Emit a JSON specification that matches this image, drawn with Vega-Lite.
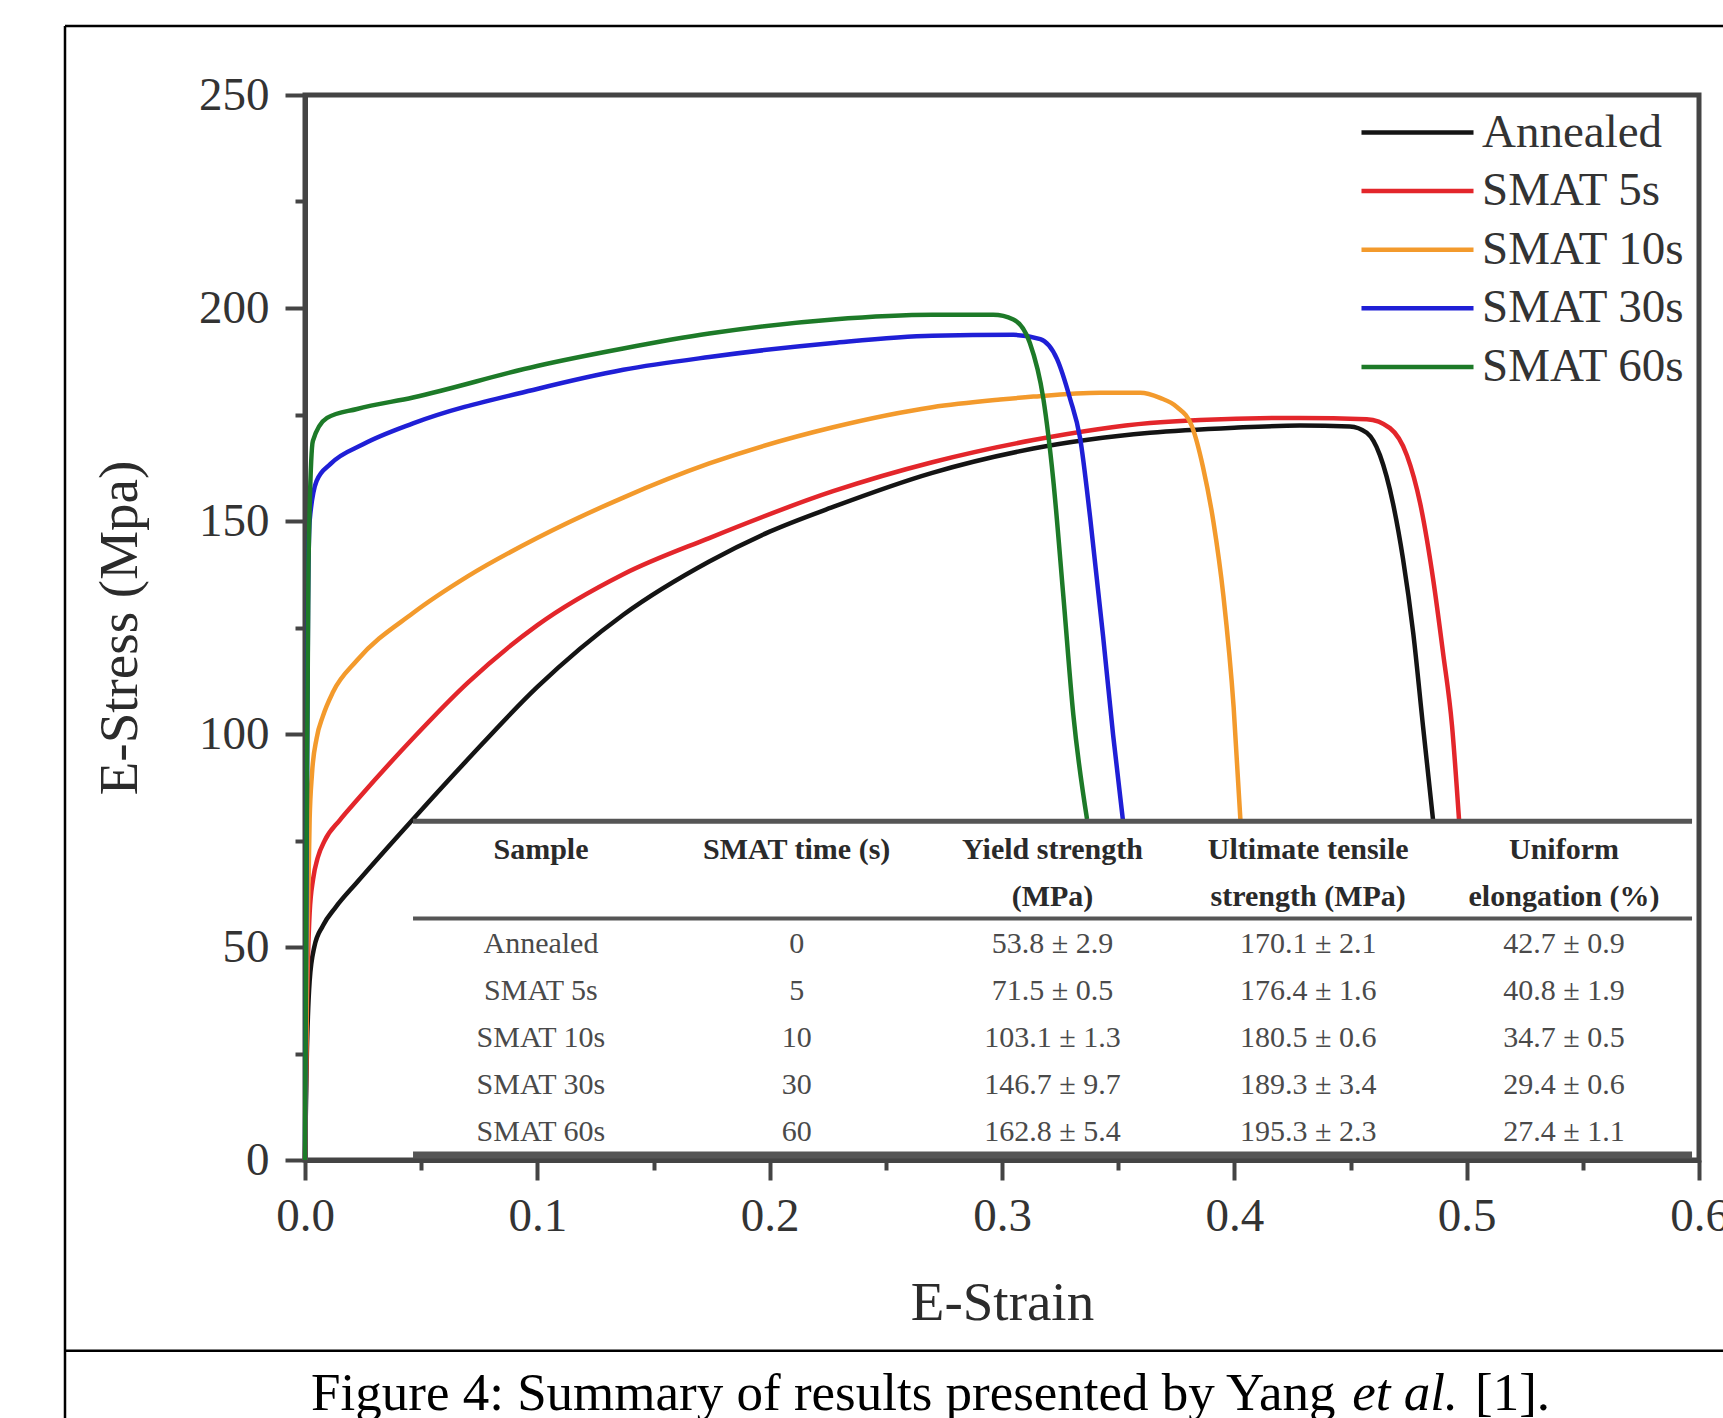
{
  "$schema": "https://vega.github.io/schema/vega-lite/v6.json",
  "autosize": {"type": "none"},
  "width": 1394,
  "height": 1065,
  "padding": {"left": 305, "top": 95, "right": 24, "bottom": 258},
  "background": "white",
  "config": {
    "font": "Liberation Serif",
    "view": {"stroke": "#444444", "strokeWidth": 5},
    "axis": {
      "domainColor": "#444444", "domainWidth": 5,
      "tickColor": "#444444", "tickWidth": 4,
      "labelFont": "Liberation Serif", "labelFontSize": 47, "labelColor": "#333333",
      "titleFont": "Liberation Serif", "titleFontSize": 55, "titleFontWeight": "normal", "titleColor": "#2b2b2b",
      "grid": false, "labelOverlap": false, "labelFlush": false
    },
    "legend": {
      "orient": "top-right", "offset": 14, "padding": 0,
      "symbolType": "M-5,0H5", "symbolSize": 502, "symbolStrokeWidth": 4.5,
      "labelFont": "Liberation Serif", "labelFontSize": 47, "labelColor": "#333333",
      "labelOffset": 41, "rowPadding": 10.6, "labelLimit": 600
    }
  },
  "datasets": {
    "curves": [
      {"sample": "Annealed", "strain": 0, "stress": 0},
      {"sample": "Annealed", "strain": 0.0008, "stress": 25},
      {"sample": "Annealed", "strain": 0.002, "stress": 42},
      {"sample": "Annealed", "strain": 0.004, "stress": 50},
      {"sample": "Annealed", "strain": 0.0077, "stress": 55},
      {"sample": "Annealed", "strain": 0.013, "stress": 59.2},
      {"sample": "Annealed", "strain": 0.0224, "stress": 65.2},
      {"sample": "Annealed", "strain": 0.0465, "stress": 80},
      {"sample": "Annealed", "strain": 0.07, "stress": 94},
      {"sample": "Annealed", "strain": 0.0999, "stress": 111},
      {"sample": "Annealed", "strain": 0.137, "stress": 128},
      {"sample": "Annealed", "strain": 0.174, "stress": 140.5},
      {"sample": "Annealed", "strain": 0.2, "stress": 147.5},
      {"sample": "Annealed", "strain": 0.2273, "stress": 153.3},
      {"sample": "Annealed", "strain": 0.27, "stress": 161.3},
      {"sample": "Annealed", "strain": 0.3135, "stress": 167},
      {"sample": "Annealed", "strain": 0.3637, "stress": 170.7},
      {"sample": "Annealed", "strain": 0.4, "stress": 171.9},
      {"sample": "Annealed", "strain": 0.4282, "stress": 172.4},
      {"sample": "Annealed", "strain": 0.4497, "stress": 172.2},
      {"sample": "Annealed", "strain": 0.457, "stress": 170.7},
      {"sample": "Annealed", "strain": 0.4627, "stress": 165.4},
      {"sample": "Annealed", "strain": 0.4683, "stress": 154.1},
      {"sample": "Annealed", "strain": 0.4726, "stress": 141.1},
      {"sample": "Annealed", "strain": 0.477, "stress": 123.7},
      {"sample": "Annealed", "strain": 0.4812, "stress": 101.9},
      {"sample": "Annealed", "strain": 0.4855, "stress": 80},
      {"sample": "SMAT 5s", "strain": 0, "stress": 0},
      {"sample": "SMAT 5s", "strain": 0.0008, "stress": 35},
      {"sample": "SMAT 5s", "strain": 0.002, "stress": 58},
      {"sample": "SMAT 5s", "strain": 0.0035, "stress": 66},
      {"sample": "SMAT 5s", "strain": 0.0055, "stress": 71},
      {"sample": "SMAT 5s", "strain": 0.0085, "stress": 75},
      {"sample": "SMAT 5s", "strain": 0.015, "stress": 79.8},
      {"sample": "SMAT 5s", "strain": 0.0224, "stress": 84.5},
      {"sample": "SMAT 5s", "strain": 0.0465, "stress": 99},
      {"sample": "SMAT 5s", "strain": 0.07, "stress": 112},
      {"sample": "SMAT 5s", "strain": 0.0999, "stress": 125.5},
      {"sample": "SMAT 5s", "strain": 0.137, "stress": 137.5},
      {"sample": "SMAT 5s", "strain": 0.174, "stress": 146},
      {"sample": "SMAT 5s", "strain": 0.2273, "stress": 157},
      {"sample": "SMAT 5s", "strain": 0.27, "stress": 163.8},
      {"sample": "SMAT 5s", "strain": 0.3135, "stress": 169},
      {"sample": "SMAT 5s", "strain": 0.3637, "stress": 173},
      {"sample": "SMAT 5s", "strain": 0.3852, "stress": 173.7},
      {"sample": "SMAT 5s", "strain": 0.4282, "stress": 174.2},
      {"sample": "SMAT 5s", "strain": 0.457, "stress": 173.9},
      {"sample": "SMAT 5s", "strain": 0.467, "stress": 171.8},
      {"sample": "SMAT 5s", "strain": 0.4743, "stress": 165.4},
      {"sample": "SMAT 5s", "strain": 0.48, "stress": 154.1},
      {"sample": "SMAT 5s", "strain": 0.4855, "stress": 136.6},
      {"sample": "SMAT 5s", "strain": 0.4898, "stress": 119.2},
      {"sample": "SMAT 5s", "strain": 0.4937, "stress": 101.9},
      {"sample": "SMAT 5s", "strain": 0.4967, "stress": 80},
      {"sample": "SMAT 10s", "strain": 0, "stress": 0},
      {"sample": "SMAT 10s", "strain": 0.001, "stress": 50},
      {"sample": "SMAT 10s", "strain": 0.002, "stress": 80},
      {"sample": "SMAT 10s", "strain": 0.003, "stress": 90.6},
      {"sample": "SMAT 10s", "strain": 0.005, "stress": 99},
      {"sample": "SMAT 10s", "strain": 0.0077, "stress": 104.2},
      {"sample": "SMAT 10s", "strain": 0.012, "stress": 109.8},
      {"sample": "SMAT 10s", "strain": 0.0224, "stress": 117.3},
      {"sample": "SMAT 10s", "strain": 0.0465, "stress": 128.4},
      {"sample": "SMAT 10s", "strain": 0.07, "stress": 137},
      {"sample": "SMAT 10s", "strain": 0.0999, "stress": 146},
      {"sample": "SMAT 10s", "strain": 0.137, "stress": 155.5},
      {"sample": "SMAT 10s", "strain": 0.174, "stress": 163.5},
      {"sample": "SMAT 10s", "strain": 0.2273, "stress": 172},
      {"sample": "SMAT 10s", "strain": 0.27, "stress": 176.7},
      {"sample": "SMAT 10s", "strain": 0.2992, "stress": 178.5},
      {"sample": "SMAT 10s", "strain": 0.3135, "stress": 179.2},
      {"sample": "SMAT 10s", "strain": 0.3423, "stress": 180.1},
      {"sample": "SMAT 10s", "strain": 0.3595, "stress": 180.1},
      {"sample": "SMAT 10s", "strain": 0.368, "stress": 178.9},
      {"sample": "SMAT 10s", "strain": 0.3752, "stress": 176.8},
      {"sample": "SMAT 10s", "strain": 0.3817, "stress": 172.3},
      {"sample": "SMAT 10s", "strain": 0.3865, "stress": 162.7},
      {"sample": "SMAT 10s", "strain": 0.391, "stress": 149.8},
      {"sample": "SMAT 10s", "strain": 0.3953, "stress": 132.4},
      {"sample": "SMAT 10s", "strain": 0.3997, "stress": 106.3},
      {"sample": "SMAT 10s", "strain": 0.4026, "stress": 80},
      {"sample": "SMAT 30s", "strain": 0, "stress": 0},
      {"sample": "SMAT 30s", "strain": 0.0006, "stress": 60},
      {"sample": "SMAT 30s", "strain": 0.0013, "stress": 130},
      {"sample": "SMAT 30s", "strain": 0.002, "stress": 150},
      {"sample": "SMAT 30s", "strain": 0.005, "stress": 159.4},
      {"sample": "SMAT 30s", "strain": 0.011, "stress": 163.4},
      {"sample": "SMAT 30s", "strain": 0.025, "stress": 168},
      {"sample": "SMAT 30s", "strain": 0.0465, "stress": 172.9},
      {"sample": "SMAT 30s", "strain": 0.0999, "stress": 181},
      {"sample": "SMAT 30s", "strain": 0.137, "stress": 185.5},
      {"sample": "SMAT 30s", "strain": 0.174, "stress": 188.5},
      {"sample": "SMAT 30s", "strain": 0.2273, "stress": 191.8},
      {"sample": "SMAT 30s", "strain": 0.27, "stress": 193.5},
      {"sample": "SMAT 30s", "strain": 0.3049, "stress": 193.7},
      {"sample": "SMAT 30s", "strain": 0.3165, "stress": 192.7},
      {"sample": "SMAT 30s", "strain": 0.3237, "stress": 188},
      {"sample": "SMAT 30s", "strain": 0.3293, "stress": 178.7},
      {"sample": "SMAT 30s", "strain": 0.3336, "stress": 169.5},
      {"sample": "SMAT 30s", "strain": 0.3379, "stress": 151},
      {"sample": "SMAT 30s", "strain": 0.3435, "stress": 123},
      {"sample": "SMAT 30s", "strain": 0.3478, "stress": 99.9},
      {"sample": "SMAT 30s", "strain": 0.352, "stress": 80},
      {"sample": "SMAT 60s", "strain": 0, "stress": 0},
      {"sample": "SMAT 60s", "strain": 0.0006, "stress": 70},
      {"sample": "SMAT 60s", "strain": 0.0015, "stress": 140},
      {"sample": "SMAT 60s", "strain": 0.0034, "stress": 168.8},
      {"sample": "SMAT 60s", "strain": 0.0095, "stress": 174.2},
      {"sample": "SMAT 60s", "strain": 0.0224, "stress": 176.3},
      {"sample": "SMAT 60s", "strain": 0.0465, "stress": 179},
      {"sample": "SMAT 60s", "strain": 0.0999, "stress": 186.4},
      {"sample": "SMAT 60s", "strain": 0.137, "stress": 190.5},
      {"sample": "SMAT 60s", "strain": 0.174, "stress": 194},
      {"sample": "SMAT 60s", "strain": 0.2273, "stress": 197.3},
      {"sample": "SMAT 60s", "strain": 0.27, "stress": 198.4},
      {"sample": "SMAT 60s", "strain": 0.2962, "stress": 198.4},
      {"sample": "SMAT 60s", "strain": 0.3049, "stress": 197.3},
      {"sample": "SMAT 60s", "strain": 0.312, "stress": 191.8},
      {"sample": "SMAT 60s", "strain": 0.3178, "stress": 178.7},
      {"sample": "SMAT 60s", "strain": 0.322, "stress": 160},
      {"sample": "SMAT 60s", "strain": 0.3264, "stress": 132.4},
      {"sample": "SMAT 60s", "strain": 0.3307, "stress": 104.5},
      {"sample": "SMAT 60s", "strain": 0.3366, "stress": 80}
    ],
    "tableHeader": [
      {"line": "h1", "sample": "Sample", "time": "SMAT time (s)", "ys": "Yield strength", "uts": "Ultimate tensile", "el": "Uniform"},
      {"line": "h2", "sample": "", "time": "", "ys": "(MPa)", "uts": "strength (MPa)", "el": "elongation (%)"}
    ],
    "tableBody": [
      {"sample": "Annealed", "time": "0", "ys": "53.8 ± 2.9", "uts": "170.1 ± 2.1", "el": "42.7 ± 0.9"},
      {"sample": "SMAT 5s", "time": "5", "ys": "71.5 ± 0.5", "uts": "176.4 ± 1.6", "el": "40.8 ± 1.9"},
      {"sample": "SMAT 10s", "time": "10", "ys": "103.1 ± 1.3", "uts": "180.5 ± 0.6", "el": "34.7 ± 0.5"},
      {"sample": "SMAT 30s", "time": "30", "ys": "146.7 ± 9.7", "uts": "189.3 ± 3.4", "el": "29.4 ± 0.6"},
      {"sample": "SMAT 60s", "time": "60", "ys": "162.8 ± 5.4", "uts": "195.3 ± 2.3", "el": "27.4 ± 1.1"}
    ],
    "caption1": [{"text": "Figure 4: Summary of results presented by Yang"}],
    "caption2": [{"text": "et al."}],
    "caption3": [{"text": "[1]."}],
    "blank": [{}]
  },
  "layer": [
    {
      "layer": [
        {
          "data": {"name": "blank"},
          "mark": {"type": "rule", "color": "#000000", "strokeWidth": 2.5},
          "encoding": {"x": {"datum": -0.1033}, "y": {"datum": 266.2}, "y2": {"datum": -70}}
        },
        {
          "data": {"name": "blank"},
          "mark": {"type": "rule", "color": "#000000", "strokeWidth": 2.5},
          "encoding": {"x": {"datum": -0.1033}, "x2": {"datum": 0.63}, "y": {"datum": 266.2}}
        },
        {
          "data": {"name": "blank"},
          "mark": {"type": "rule", "color": "#000000", "strokeWidth": 2.5},
          "encoding": {"x": {"datum": -0.1033}, "x2": {"datum": 0.63}, "y": {"datum": -44.8}}
        },
        {
          "data": {"name": "curves"},
          "mark": {"type": "line", "interpolate": "monotone", "strokeWidth": 4.5},
          "encoding": {
            "x": {
              "field": "strain", "type": "quantitative",
              "scale": {"domain": [0, 0.6], "nice": false, "zero": false},
              "axis": {
                "title": "E-Strain",
                "values": [0, 0.05, 0.1, 0.15, 0.2, 0.25, 0.3, 0.35, 0.4, 0.45, 0.5, 0.55, 0.6],
                "format": ".1f",
                "labelExpr": "round(datum.value * 100) % 10 == 0 ? datum.label : ''",
                "tickSize": {"condition": {"test": "round(datum.value * 100) % 10 != 0", "value": 10}, "value": 20},
                "labelPadding": 13,
                "titlePadding": 37
              }
            },
            "y": {
              "field": "stress", "type": "quantitative",
              "scale": {"domain": [0, 250], "nice": false},
              "axis": {
                "title": "E-Stress (Mpa)",
                "values": [0, 25, 50, 75, 100, 125, 150, 175, 200, 225, 250],
                "labelExpr": "datum.value % 50 == 0 ? datum.label : ''",
                "tickSize": {"condition": {"test": "datum.value % 50 != 0", "value": 10}, "value": 20},
                "labelPadding": 16,
                "titlePadding": 50
              }
            },
            "color": {
              "field": "sample", "type": "nominal",
              "scale": {
                "domain": ["Annealed", "SMAT 5s", "SMAT 10s", "SMAT 30s", "SMAT 60s"],
                "range": ["#141414", "#e3262b", "#f39a2c", "#1f1fd6", "#1d7a28"]
              },
              "legend": {"title": null}
            }
          }
        },
        {
          "data": {"name": "blank"},
          "mark": {"type": "rule", "color": "#555555", "strokeWidth": 5},
          "encoding": {"x": {"datum": 0.0465}, "x2": {"datum": 0.597}, "y": {"datum": 79.5}}
        },
        {
          "data": {"name": "blank"},
          "mark": {"type": "rule", "color": "#555555", "strokeWidth": 4},
          "encoding": {"x": {"datum": 0.0465}, "x2": {"datum": 0.597}, "y": {"datum": 56.7}}
        },
        {
          "data": {"name": "blank"},
          "mark": {"type": "rule", "color": "#555555", "strokeWidth": 7},
          "encoding": {"x": {"datum": 0.0465}, "x2": {"datum": 0.597}, "y": {"datum": 1.2}}
        },
        {
          "data": {"name": "caption1"},
          "mark": {"type": "text", "align": "left", "baseline": "alphabetic", "fontSize": 53, "font": "Liberation Serif", "color": "#000000"},
          "encoding": {"x": {"datum": 0.0026}, "y": {"datum": -58.7}, "text": {"field": "text"}}
        },
        {
          "data": {"name": "caption2"},
          "mark": {"type": "text", "align": "left", "baseline": "alphabetic", "fontSize": 53, "font": "Liberation Serif", "fontStyle": "italic", "color": "#000000"},
          "encoding": {"x": {"datum": 0.4507}, "y": {"datum": -58.7}, "text": {"field": "text"}}
        },
        {
          "data": {"name": "caption3"},
          "mark": {"type": "text", "align": "left", "baseline": "alphabetic", "fontSize": 53, "font": "Liberation Serif", "color": "#000000"},
          "encoding": {"x": {"datum": 0.5036}, "y": {"datum": -58.7}, "text": {"field": "text"}}
        }
      ]
    },
    {
      "layer": [
        {
          "data": {"name": "tableHeader"},
          "transform": [{"fold": ["sample", "time", "ys", "uts", "el"], "as": ["col", "cell"]}],
          "mark": {"type": "text", "align": "center", "baseline": "middle", "fontSize": 30, "fontWeight": "bold", "font": "Liberation Serif", "color": "#2a2a2a"},
          "encoding": {
            "x": {"field": "col", "type": "nominal", "scale": {"type": "point", "domain": ["sample", "time", "ys", "uts", "el"], "padding": 0.7253, "align": 0.636}, "axis": null},
            "y": {"field": "line", "type": "nominal", "scale": {"type": "point", "domain": ["r0", "r1", "r2", "r3", "r4", "r5", "r6", "r7", "r8", "r9", "r10", "r11", "r12", "r13", "r14", "h1", "h2", "Annealed", "SMAT 5s", "SMAT 10s", "SMAT 30s", "SMAT 60s"], "padding": 0.8298, "align": 0.64}, "axis": null},
            "text": {"field": "cell"}
          }
        },
        {
          "data": {"name": "tableBody"},
          "transform": [{"fold": ["sample", "time", "ys", "uts", "el"], "as": ["col", "cell"]}],
          "mark": {"type": "text", "align": "center", "baseline": "middle", "fontSize": 30, "font": "Liberation Serif", "color": "#4a4a4a"},
          "encoding": {
            "x": {"field": "col", "type": "nominal", "axis": null},
            "y": {"field": "sample", "type": "nominal", "axis": null},
            "text": {"field": "cell"}
          }
        }
      ]
    }
  ],
  "resolve": {"scale": {"x": "independent", "y": "independent"}}
}
